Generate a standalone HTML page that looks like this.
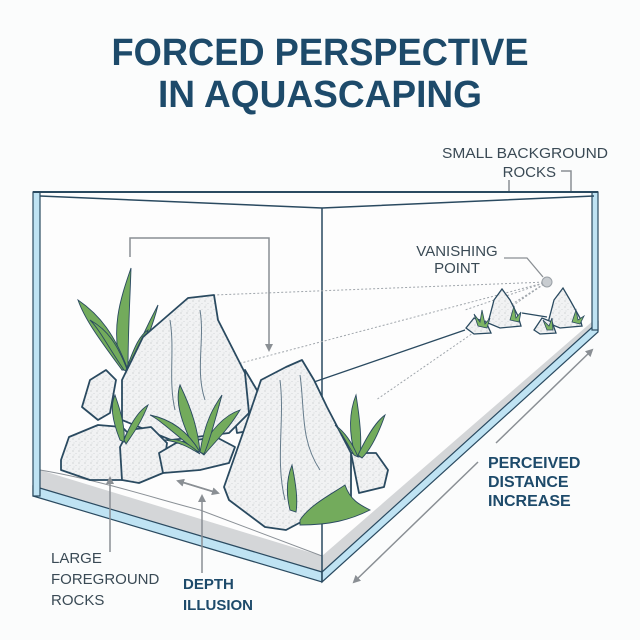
<!DOCTYPE html>
<html><head><meta charset="utf-8"><style>
html,body{margin:0;padding:0;background:#fbfcfc;}
svg{display:block;}
text{font-family:"Liberation Sans",sans-serif;}
</style></head><body>
<svg width="640" height="640" viewBox="0 0 640 640" xmlns="http://www.w3.org/2000/svg">
<defs>
<pattern id="sp" width="6" height="6" patternUnits="userSpaceOnUse">
<rect width="6" height="6" fill="#f1f2f3"/>
<circle cx="1" cy="1" r="0.6" fill="#bcc0c4"/><circle cx="4" cy="3.5" r="0.5" fill="#c8ccd0"/><circle cx="2" cy="5" r="0.4" fill="#b4b8bc"/>
</pattern>
<marker id="ah" markerWidth="8" markerHeight="8" refX="6" refY="4" orient="auto" markerUnits="userSpaceOnUse"><path d="M0,0 L8,4 L0,8 Z" fill="#8a8f94"/></marker>
</defs>
<rect width="640" height="640" fill="#fbfcfc"/>
<text x="320" y="65" text-anchor="middle" font-size="38" font-weight="bold" fill="#1d4a6a" textLength="417" lengthAdjust="spacingAndGlyphs">FORCED PERSPECTIVE</text>
<text x="320" y="107" text-anchor="middle" font-size="38" font-weight="bold" fill="#1d4a6a" textLength="324" lengthAdjust="spacingAndGlyphs">IN AQUASCAPING</text>
<text x="608" y="158" text-anchor="end" font-size="15" fill="#3a4a55" textLength="166" lengthAdjust="spacingAndGlyphs">SMALL BACKGROUND</text>
<text x="556" y="177" text-anchor="end" font-size="15" fill="#3a4a55">ROCKS</text>
<polyline points="561,171 571,171 571,285" fill="none" stroke="#8a8f94" stroke-width="1.5" marker-end="url(#ah)"/>
<line x1="509" y1="180" x2="509" y2="295" stroke="#8a8f94" stroke-width="1.5"/>

<!-- tank -->
<polygon points="33,192 598,192 598,330 322,582 33,496" fill="#fdfdfd"/>
<polygon points="40,470 40,496 322,582 322,556" fill="#d4d6d8"/>
<path d="M40,470 C100,480 160,500 200,510 L322,556" fill="none" stroke="#8a9096" stroke-width="1"/>
<polygon points="322,556 594,320 596,328 322,575" fill="#d4d6d8"/>
<polygon points="33,486 322,572 322,582 33,496" fill="#bfe3f3" stroke="#2a4a60" stroke-width="1.2"/>
<polygon points="322,572 598,322 598,332 322,582" fill="#bfe3f3" stroke="#2a4a60" stroke-width="1.2"/>
<rect x="33" y="192" width="7" height="304" fill="#bfe3f3" stroke="#2a4a60" stroke-width="1.2"/>
<rect x="592" y="192" width="6" height="138" fill="#bfe3f3" stroke="#2a4a60" stroke-width="1.2"/>
<line x1="33" y1="192" x2="598" y2="192" stroke="#2a4a60" stroke-width="2"/>
<polyline points="40,196 322,208 594,196" fill="none" stroke="#2a4a60" stroke-width="1.5"/>
<line x1="322" y1="208" x2="322" y2="582" stroke="#2a4a60" stroke-width="1.5"/>

<!-- perspective lines -->
<g stroke="#a0a6ac" stroke-width="1" stroke-dasharray="2,2" fill="none">
<line x1="547" y1="282" x2="214" y2="295"/>
<line x1="547" y1="282" x2="241" y2="363"/>
<line x1="547" y1="282" x2="482" y2="323"/>
<line x1="547" y1="282" x2="376" y2="400"/>
<line x1="547" y1="282" x2="465" y2="310"/>
<line x1="547" y1="282" x2="520" y2="300"/>
</g>
<line x1="314" y1="382" x2="465" y2="330" stroke="#2a4a60" stroke-width="1.3"/>
<line x1="522" y1="313" x2="547" y2="317" stroke="#2a4a60" stroke-width="1.3"/>
<circle cx="547" cy="282" r="5" fill="#c8ccd0" stroke="#9aa0a6"/>
<text x="457" y="256" text-anchor="middle" font-size="15" fill="#3a4a55">VANISHING</text>
<text x="457" y="273" text-anchor="middle" font-size="15" fill="#3a4a55">POINT</text>
<polyline points="504,258 527,258 543,277" fill="none" stroke="#8a8f94" stroke-width="1.3"/>

<!-- background rocks -->
<g stroke="#2a4a60" stroke-width="1.3" fill="url(#sp)">
<polygon points="488,323 494,300 502,289 510,300 518,316 521,326 500,328"/>
<polygon points="466,328 474,318 486,322 491,333 474,334"/>
<polygon points="548,323 554,300 563,288 570,300 580,318 582,326 560,328"/>
<polygon points="534,330 542,318 552,322 556,333 540,334"/>
</g>
<g fill="#7cb463" stroke="#2a4a60" stroke-width="0.8">
<path d="M478,326 l-4,-12 l6,8 l2,-12 l3,14 l5,-6 l-3,10z"/>
<path d="M510,320 l4,-14 l2,12 l5,-6 l-2,10z"/>
<path d="M572,322 l4,-12 l2,10 l6,-4 l-4,8z"/>
<path d="M547,330 l-4,-10 l6,6 l3,-8 l1,12z"/>
</g>

<!-- bracket -->
<polyline points="130,257 130,238 269,238 269,350" fill="none" stroke="#8a8f94" stroke-width="1.5" marker-end="url(#ah)"/>

<!-- plants back -->
<g fill="#73ab5c" stroke="#2a4a60" stroke-width="0.9">
<path d="M122,370 C110,330 120,300 131,268 C130,300 128,330 128,370z"/>
<path d="M122,370 C100,340 85,320 78,300 C100,315 115,335 128,370z"/>
<path d="M128,370 C140,340 150,320 158,305 C152,330 142,350 132,372z"/>
<path d="M124,370 C110,350 100,330 90,320 C108,330 118,345 128,372z"/>
<path d="M126,370 C135,345 140,335 148,330 C142,350 136,360 130,372z"/>
<path d="M230,385 C226,370 228,360 232,352 C236,366 238,375 236,388z"/>
</g>
<!-- rocks -->
<g stroke="#2a4a60" stroke-width="1.8" fill="url(#sp)" stroke-linejoin="round">
<polygon points="82,407 90,380 106,370 116,380 110,413 98,420"/>
<polygon points="229,380 245,370 261,397 253,430 237,433"/>
<polygon points="122,380 143,337 188,298 214,295 218,320 245,373 249,413 229,433 171,440 122,420"/>
<polygon points="61,460 69,437 98,425 122,427 135,440 122,480 90,480 61,470"/>
<polygon points="120,447 129,430 151,427 167,443 163,473 139,483 122,480"/>
<polygon points="159,453 176,443 216,437 235,447 229,463 200,470 163,473"/>
<polygon points="351,453 376,453 388,470 384,487 359,493"/>
<polygon points="224,487 245,427 261,380 286,367 302,360 314,380 327,407 351,453 351,500 318,513 286,530 265,527 229,500"/>
</g>
<g fill="none" stroke="#2a4a60" stroke-width="1" opacity="0.7">
<path d="M170,320 C175,350 168,380 175,410"/><path d="M200,310 C205,340 195,370 205,400"/>
<path d="M280,380 C285,420 275,460 285,500"/><path d="M300,375 C305,410 300,440 320,470"/>
</g>
<!-- plants front -->
<g fill="#73ab5c" stroke="#2a4a60" stroke-width="0.9">
<path d="M195,450 C180,420 175,400 180,385 C192,410 198,430 200,452z"/>
<path d="M195,450 C170,430 160,420 150,415 C175,420 190,435 200,452z"/>
<path d="M200,452 C210,430 225,415 240,410 C228,430 212,445 204,455z"/>
<path d="M200,452 C205,420 215,405 222,395 C215,420 210,440 204,454z"/>
<path d="M198,452 C185,440 175,438 165,440 C180,442 190,448 200,454z"/>
<path d="M120,440 C112,420 110,405 115,395 C122,415 125,428 124,442z"/>
<path d="M124,440 C132,420 140,410 148,405 C140,425 132,435 126,444z"/>
<path d="M355,455 C348,430 350,410 356,395 C360,420 362,440 360,457z"/>
<path d="M358,455 C370,430 378,420 385,415 C378,435 370,450 362,458z"/>
<path d="M354,455 C345,440 340,430 335,425 C345,432 352,442 358,457z"/>
<path d="M290,510 C285,490 288,475 292,465 C296,485 298,500 296,512z"/>
<path d="M300,520 C310,505 330,495 345,485 C350,500 360,505 370,510 C350,520 330,525 300,525z"/>
</g>

<!-- callouts -->
<line x1="110" y1="552" x2="110" y2="478" stroke="#8a8f94" stroke-width="1.5" marker-end="url(#ah)"/>
<text x="51" y="563" font-size="15" fill="#3a4a55">LARGE</text>
<text x="51" y="584" font-size="15" fill="#3a4a55">FOREGROUND</text>
<text x="51" y="605" font-size="15" fill="#3a4a55">ROCKS</text>
<line x1="202" y1="573" x2="202" y2="496" stroke="#8a8f94" stroke-width="1.5" marker-end="url(#ah)"/>
<line x1="182" y1="482" x2="218" y2="493" stroke="#8a8f94" stroke-width="1.5" marker-end="url(#ah)"/>
<line x1="214" y1="492" x2="178" y2="481" stroke="#8a8f94" stroke-width="1.5" marker-end="url(#ah)"/>
<text x="183" y="589" font-size="15" font-weight="bold" fill="#1d4a6a">DEPTH</text>
<text x="183" y="610" font-size="15" font-weight="bold" fill="#1d4a6a">ILLUSION</text>
<line x1="478" y1="462" x2="354" y2="582" stroke="#8a8f94" stroke-width="1.5" marker-end="url(#ah)"/>
<line x1="496" y1="443" x2="592" y2="350" stroke="#8a8f94" stroke-width="1.5" marker-end="url(#ah)"/>
<text x="488" y="468" font-size="16" font-weight="bold" fill="#1d4a6a">PERCEIVED</text>
<text x="488" y="487" font-size="16" font-weight="bold" fill="#1d4a6a">DISTANCE</text>
<text x="488" y="506" font-size="16" font-weight="bold" fill="#1d4a6a">INCREASE</text>
</svg>
</body></html>
